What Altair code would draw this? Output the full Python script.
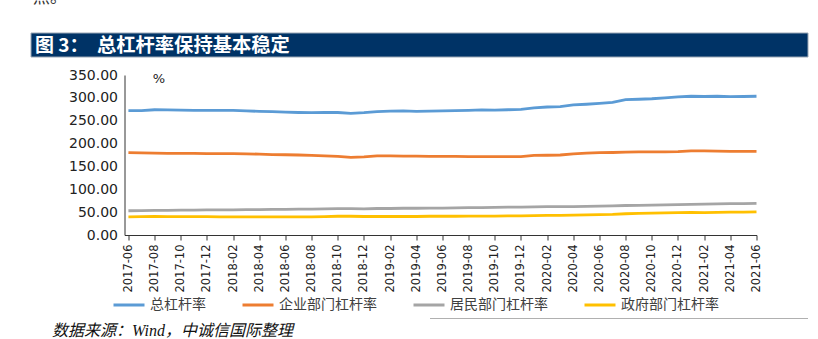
import altair as alt
import pandas as pd

# ---------------- data ----------------
months = []
for y in range(2017, 2022):
    for m in range(1, 13):
        s = f"{y}-{m:02d}"
        if "2017-06" <= s <= "2021-06":
            months.append(s)

names = ["总杠杆率", "企业部门杠杆率", "居民部门杠杆率", "政府部门杠杆率"]
colors = ["#5B9BD5", "#ED7D31", "#A5A5A5", "#FFC000"]

total = [272, 272, 274, 273.5, 273, 272.5, 272.5, 272.5, 272.5, 271.5,
         270.5, 270, 269, 268, 267.5, 268, 268, 266, 267.5, 270,
         271, 271.5, 270.5, 271, 271.5, 272, 272.5, 273.5, 273, 274,
         275, 278, 280, 281, 284.5, 286, 288, 290, 296, 297,
         298, 300, 302, 303.5, 303, 303.5, 302.5, 303, 303.5]
enterprise = [180, 179.5, 179, 178.5, 178.5, 178.5, 178, 178, 178, 177.5,
              177, 176, 175.5, 175, 174, 173, 172, 170, 171, 173,
              173, 172.5, 172.5, 172, 172, 172, 171.5, 171.5, 171.5, 171.5,
              171.5, 174, 174.5, 175, 177.5, 179, 180, 180.5, 181.5, 182,
              182, 182, 182.5, 184, 184, 183.5, 183, 183, 183]
household = [53, 53.5, 54, 54, 54.5, 54.5, 55, 55, 55, 55.5,
             55.5, 56, 56, 56.5, 56.5, 57, 57.5, 57.5, 57, 58,
             58, 58.5, 58.5, 59, 59, 59.5, 60, 60, 60.5, 61,
             61, 61.5, 62, 62, 62, 62.5, 63, 63.5, 64.5, 65,
             65.5, 66, 66.5, 67, 67.5, 68, 68.5, 68.5, 69]
government = [39.5, 40, 40.5, 40, 40, 40, 40, 39.5, 39.5, 39.5,
              39.5, 39.5, 39.5, 39.5, 39.5, 40, 41, 41, 40.5, 40.5,
              40.5, 40.5, 40.5, 41, 41, 41, 41.5, 41.5, 41.5, 42,
              42, 42.5, 43, 43, 43.5, 44, 44.5, 45, 46.5, 47.5,
              48, 48.5, 49, 49.5, 49, 49.5, 50, 50, 50.5]

tick_idx = list(range(0, len(months), 2))
y_ticks = [0, 50, 100, 150, 200, 250, 300, 350]

fig_label = "图 3："
title_text = "总杠杆率保持基本稳定"
unit_text = "%"
source_text = "数据来源：Wind，中诚信国际整理"
top_text = "点。"

# ---------------- tables ----------------
df = pd.DataFrame({"idx": list(range(len(months))), "month": months,
                   names[0]: total, names[1]: enterprise,
                   names[2]: household, names[3]: government})
long = df.melt(id_vars=["idx", "month"], value_vars=names,
               var_name="series", value_name="value")

label_arr = "[" + ",".join(f"'{m}'" for m in months) + "]"

lines = alt.Chart(long).mark_line(strokeWidth=2.8).encode(
    x=alt.X("idx:Q",
            scale=alt.Scale(domain=[-0.3, len(months) - 1], nice=False, zero=False),
            axis=alt.Axis(values=tick_idx, labelExpr=label_arr + "[datum.value]",
                          labelAngle=270, labelFontSize=11.5, labelFont="DejaVu Sans",
                          labelColor="#222222", tickSize=5, tickColor="#333333",
                          domainColor="#333333", labelPadding=4, grid=False,
                          title=None, labelOverlap=False, labelFlush=False)),
    y=alt.Y("value:Q",
            scale=alt.Scale(domain=[0, 350], nice=False),
            axis=alt.Axis(values=y_ticks, format=".2f", ticks=False,
                          labelFontSize=14, labelFont="DejaVu Sans",
                          labelColor="#222222", labelPadding=7, grid=False,
                          title=None, domainColor="#333333")),
    color=alt.Color("series:N",
                    scale=alt.Scale(domain=names, range=colors),
                    legend=alt.Legend(orient="none", legendX=-12.5, legendY=213,
                                      direction="horizontal", columns=4, title=None,
                                      symbolType="stroke", symbolSize=961,
                                      symbolStrokeWidth=3, labelFontSize=14,
                                      labelFont="Noto Sans CJK SC", labelColor="#404040",
                                      labelOffset=4, columnPadding=30, padding=0)),
)

one = pd.DataFrame({"t": [fig_label]})
bar = alt.Chart(one).mark_rect(color="#003366", stroke="#9aa7b5", strokeWidth=1).encode(
    x=alt.value(-93.5), x2=alt.value(683.5), y=alt.value(-42), y2=alt.value(-18))
fig = alt.Chart(one).mark_text(align="left", baseline="middle", font="Noto Sans CJK SC",
                               fontSize=19, fontWeight="bold", color="white").encode(
    x=alt.value(-89.5), y=alt.value(-29.5), text="t:N")
title = alt.Chart(pd.DataFrame({"t": [title_text]})).mark_text(
    align="left", baseline="middle", font="Noto Sans CJK SC",
    fontSize=19.3, fontWeight="bold", color="white").encode(
    x=alt.value(-27.5), y=alt.value(-29.5), text="t:N")

unit = alt.Chart(pd.DataFrame({"t": [unit_text]})).mark_text(
    align="center", baseline="middle", font="DejaVu Sans", fontSize=13, color="#222222").encode(
    x=alt.value(34.5), y=alt.value(4), text="t:N")

source = alt.Chart(pd.DataFrame({"t": [source_text]})).mark_text(
    align="left", baseline="middle", font="Liberation Serif, Noto Sans CJK SC",
    fontSize=16, fontStyle="italic", color="#111111").encode(
    x=alt.value(-72.5), y=alt.value(256), text="t:N")

top = alt.Chart(pd.DataFrame({"t": [top_text]})).mark_text(
    align="left", baseline="alphabetic", font="Noto Sans CJK SC",
    fontSize=17, color="#333333").encode(
    x=alt.value(-91.5), y=alt.value(-72), text="t:N")

sep = alt.Chart(one).mark_rule(color="#b0b0b0", strokeWidth=1).encode(
    x=alt.value(305.5), x2=alt.value(683.5), y=alt.value(243.5))

chart = alt.layer(bar, fig, title, top, lines, unit, sep, source).properties(
    width=632, height=160,
    padding={"left": 124.5, "top": 75, "right": 61.5, "bottom": 104},
    autosize=alt.AutoSizeParams(type="none"),
    background="white",
).configure_view(stroke=None)

chart.save("out.html", embed_options={"renderer": "svg", "actions": False})
